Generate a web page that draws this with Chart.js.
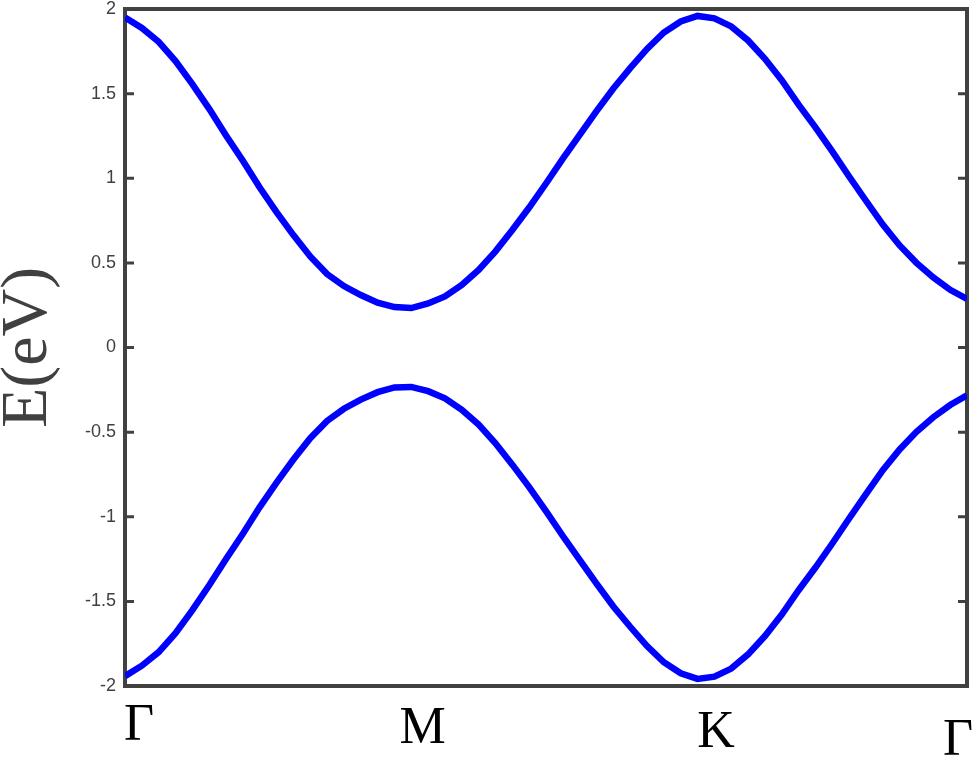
<!DOCTYPE html>
<html><head><meta charset="utf-8">
<script src="https://cdn.jsdelivr.net/npm/chart.js@4"></script>
<style>html,body{margin:0;padding:0;background:#fff;overflow:hidden}canvas{display:block}</style>
</head><body>
<canvas id="c" width="975" height="757"></canvas>
<script>
// k-path sample index
const kPath = [0,1,2,3,4,5,6,7,8,9,10,11,12,13,14,15,16,17,18,19,20,21,22,23,24,25,26,27,28,29,30,31,32,33,34,35,36,37,38,39,40,41,42,43,44,45,46,47,48,49,50];
// conduction band (eV)
const bandUpper = [1.950,1.888,1.806,1.692,1.556,1.410,1.253,1.103,0.945,0.800,0.664,0.538,0.434,0.363,0.310,0.265,0.239,0.233,0.260,0.302,0.369,0.458,0.568,0.694,0.827,0.969,1.116,1.256,1.396,1.530,1.651,1.764,1.861,1.926,1.959,1.945,1.897,1.814,1.706,1.579,1.435,1.301,1.159,1.010,0.867,0.726,0.603,0.500,0.414,0.341,0.287];
// valence band (eV)
const bandLower = [-1.942,-1.880,-1.800,-1.688,-1.552,-1.405,-1.250,-1.100,-0.943,-0.798,-0.662,-0.536,-0.434,-0.362,-0.308,-0.264,-0.236,-0.233,-0.258,-0.300,-0.368,-0.456,-0.566,-0.692,-0.825,-0.967,-1.114,-1.255,-1.395,-1.530,-1.650,-1.764,-1.860,-1.925,-1.958,-1.945,-1.897,-1.813,-1.705,-1.578,-1.434,-1.300,-1.158,-1.010,-0.866,-0.725,-0.602,-0.498,-0.412,-0.340,-0.282];
// high-symmetry point labels and their positions along the path
const kLabels = ['Γ','M','K','Γ'];
const kLabelPos = [0.83, 17.67, 35.1, 49.47];
// y ticks
const yTickValues = [-2,-1.5,-1,-0.5,0,0.5,1,1.5,2];
const yTickLabels = ['-2','-1.5','-1','-0.5','0','0.5','1','1.5','2'];

const kLabelDrop = [54, 57, 61, 69];
const frameColor = '#414141';

const framePlugin = {
  id: 'matlabFrame',
  beforeDatasetsDraw(chart) {
    const {ctx, chartArea: a} = chart;
    const y = chart.scales.y;
    ctx.save();
    ctx.strokeStyle = frameColor;
    ctx.lineWidth = 3;
    y.ticks.forEach(t => {
      const py = y.getPixelForValue(t.value);
      ctx.beginPath();
      ctx.moveTo(a.left, py); ctx.lineTo(a.left + 9, py);
      ctx.moveTo(a.right, py); ctx.lineTo(a.right - 9, py);
      ctx.stroke();
    });
    ctx.lineWidth = 4;
    ctx.strokeRect(a.left, a.top, a.right - a.left, a.bottom - a.top);
    ctx.restore();
  },
  afterDraw(chart) {
    const {ctx, chartArea: a} = chart;
    const x = chart.scales.x;
    ctx.save();
    ctx.fillStyle = '#000';
    ctx.font = '52px "Liberation Serif", "DejaVu Serif", serif';
    ctx.textAlign = 'center';
    ctx.textBaseline = 'alphabetic';
    kLabels.forEach((lab, i) => {
      ctx.fillText(lab, x.getPixelForValue(kLabelPos[i]), a.bottom + kLabelDrop[i]);
    });
    ctx.restore();
  }
};

new Chart(document.getElementById('c'), {
  type: 'line',
  data: {
    labels: kPath,
    datasets: [
      {data: kPath.map((k, i) => ({x: k, y: bandUpper[i]})), borderColor: '#0000ff', borderWidth: 6.5, pointRadius: 0, tension: 0, fill: false},
      {data: kPath.map((k, i) => ({x: k, y: bandLower[i]})), borderColor: '#0000ff', borderWidth: 6.5, pointRadius: 0, tension: 0, fill: false}
    ]
  },
  options: {
    responsive: false,
    devicePixelRatio: 1,
    animation: false,
    layout: {padding: {left: 0, right: 8, top: 9, bottom: 71}},
    plugins: {legend: {display: false}, tooltip: {enabled: false}},
    scales: {
      x: {type: 'linear', min: 0, max: 50, display: false},
      y: {
        type: 'linear', min: -2, max: 2,
        afterBuildTicks(s) { s.ticks = yTickValues.map(v => ({value: v})); },
        afterFit(s) { s.width = 125; s.paddingTop = 9; s.paddingBottom = 9; },
        grid: {display: false, drawTicks: false},
        border: {display: false},
        ticks: {
          padding: 9,
          color: '#404040',
          font: {family: '"Liberation Sans", Arial, sans-serif', size: 18, lineHeight: 1},
          callback(v) { const i = yTickValues.indexOf(v); return i >= 0 ? yTickLabels[i] : ''; }
        },
        title: {
          display: true, text: 'E(eV)', color: '#404040',
          font: {family: '"Liberation Serif", "DejaVu Serif", serif', size: 66, lineHeight: 0.8},
          padding: {top: 2, bottom: 0}
        }
      }
    }
  },
  plugins: [framePlugin]
});
</script>
</body></html>
